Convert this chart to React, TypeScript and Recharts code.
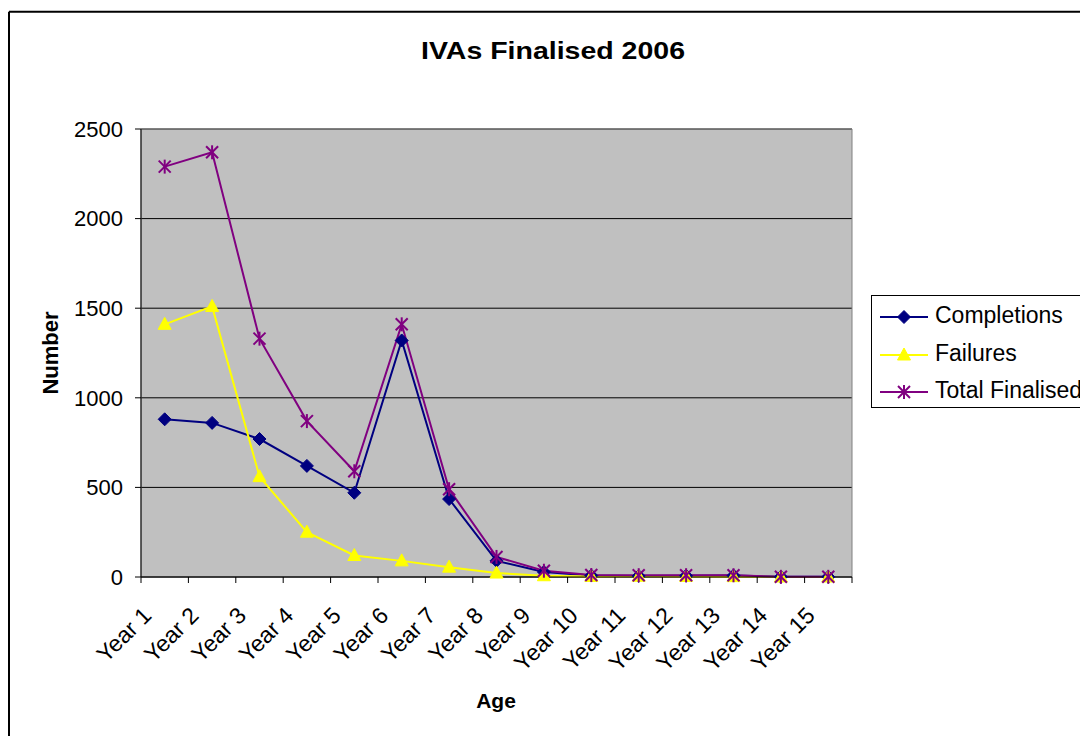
import React from 'react';
import { LineChart, Line, XAxis, YAxis, CartesianGrid, ReferenceArea } from 'recharts';

const categories = ['Year 1', 'Year 2', 'Year 3', 'Year 4', 'Year 5', 'Year 6', 'Year 7', 'Year 8', 'Year 9', 'Year 10', 'Year 11', 'Year 12', 'Year 13', 'Year 14', 'Year 15'];
const completions = [880, 860, 770, 620, 470, 1320, 435, 90, 28, 8, 6, 7, 8, 1, 1];
const failures = [1410, 1510, 560, 250, 120, 90, 55, 22, 7, 3, 4, 3, 2, 0, 0];
const totalFinalised = [2290, 2370, 1330, 870, 590, 1410, 490, 112, 35, 11, 10, 10, 10, 1, 1];
const yTicks = [0, 500, 1000, 1500, 2000, 2500];
const xBoundaries = categories.map((_, i) => i).concat([categories.length]);

const seriesNames = ['Completions', 'Failures', 'Total Finalised'];
const seriesColors = ['#000080', '#FFFF00', '#800080'];

const data = categories.map((c, i) => ({
  x: i + 0.5,
  name: c,
  completions: completions[i],
  failures: failures[i],
  total: totalFinalised[i],
}));

const FONT = "'Liberation Sans', Arial, sans-serif";
const W = 1080;
const H = 728;
const MARGIN = { top: 121, right: 236, left: 0, bottom: 0 };
const Y_W = 133;
const X_H = 159;
const PLOT_W = W - MARGIN.right - Y_W;
const HALF = PLOT_W / categories.length / 2;

const Diamond = ({ cx, cy, color }: any) => (
  <path d={`M${cx},${cy - 6.5}L${cx + 6.5},${cy}L${cx},${cy + 6.5}L${cx - 6.5},${cy}Z`} fill={color} stroke={color} strokeWidth={1} />
);
const Triangle = ({ cx, cy, color }: any) => (
  <path d={`M${cx},${cy - 7}L${cx + 6.5},${cy + 5}L${cx - 6.5},${cy + 5}Z`} fill={color} stroke={color} strokeWidth={1} />
);
const Star = ({ cx, cy, color }: any) => (
  <g stroke={color} strokeWidth={2}>
    <line x1={cx - 6} y1={cy - 6} x2={cx + 6} y2={cy + 6} />
    <line x1={cx - 6} y1={cy + 6} x2={cx + 6} y2={cy - 6} />
    <line x1={cx} y1={cy - 7} x2={cx} y2={cy + 7} />
  </g>
);
const markers = [Diamond, Triangle, Star];

const makeDot = (k: number) => (props: any) => {
  const M = markers[k];
  if (props.cx == null || props.cy == null) return <g key={`e-${k}-${props.index}`} />;
  return <M key={`m-${k}-${props.index}`} cx={props.cx} cy={props.cy} color={seriesColors[k]} />;
};

const XTick = (props: any) => {
  const { x, y, payload } = props;
  const v = payload.value;
  if (v >= categories.length) return <g />;
  const ax = x + HALF - 12;
  const ay = y + 32;
  return (
    <text x={ax} y={ay} textAnchor="end" transform={`rotate(-45 ${ax} ${ay})`} fontSize={23} fontFamily={FONT} fill="#000">
      {categories[v]}
    </text>
  );
};

export default function App() {
  const legendRows = [317, 355, 392];
  return (
    <div style={{ position: 'relative', width: W, height: H }}>
      <style>{'html{overflow:hidden;} #root{width:1080px;}'}</style>
      <div style={{ position: 'absolute', left: 0, top: 0, width: W, height: H }}>
        <LineChart width={W} height={H} data={data} margin={MARGIN}>
          <CartesianGrid vertical={false} stroke="#000" fill="#C0C0C0" fillOpacity={1} />
          <ReferenceArea x1={0} x2={15} y1={0} y2={2500} fill="none" stroke="#808080" strokeWidth={1} ifOverflow="visible" />
          <XAxis
            dataKey="x"
            type="number"
            domain={[0, 15]}
            ticks={xBoundaries}
            interval={0}
            height={X_H}
            tickSize={6}
            tickMargin={2}
            axisLine={{ stroke: '#000', strokeWidth: 1 }}
            tickLine={{ stroke: '#000', strokeWidth: 1 }}
            tick={<XTick />}
          />
          <YAxis
            type="number"
            domain={[0, 2500]}
            ticks={yTicks}
            interval={0}
            width={Y_W}
            tickSize={6}
            tickMargin={12}
            axisLine={{ stroke: '#000', strokeWidth: 1 }}
            tickLine={{ stroke: '#000', strokeWidth: 1 }}
            tick={{ fontSize: 22, fontFamily: FONT, fill: '#000' }}
          />
          <Line type="linear" dataKey="completions" stroke={seriesColors[0]} strokeWidth={2} dot={makeDot(0)} activeDot={false} isAnimationActive={false} />
          <Line type="linear" dataKey="failures" stroke={seriesColors[1]} strokeWidth={2} dot={makeDot(1)} activeDot={false} isAnimationActive={false} />
          <Line type="linear" dataKey="total" stroke={seriesColors[2]} strokeWidth={2} dot={makeDot(2)} activeDot={false} isAnimationActive={false} />
        </LineChart>
      </div>
      <svg width={W} height={H} style={{ position: 'absolute', left: 0, top: 0, pointerEvents: 'none' }}>
        <g transform="translate(-8,-8)" fontFamily={FONT}>
          <line x1={9} y1={11.7} x2={1200} y2={11.7} stroke="#000" strokeWidth={2} />
          <line x1={9} y1={11.7} x2={9} y2={900} stroke="#000" strokeWidth={2} />
          <text x={553} y={59} textAnchor="middle" fontSize={24} fontWeight="bold" textLength={264} lengthAdjust="spacingAndGlyphs" fill="#000">
            IVAs Finalised 2006
          </text>
          <text x={58} y={353} textAnchor="middle" fontSize={22} fontWeight="bold" transform="rotate(-90 58 353)" fill="#000">
            Number
          </text>
          <text x={496} y={708} textAnchor="middle" fontSize={21} fontWeight="bold" fill="#000">
            Age
          </text>
          <rect x={871.5} y={295.5} width={215} height={112} fill="none" stroke="#000" strokeWidth={1} />
          {seriesNames.map((n, k) => {
            const M = markers[k];
            const ly = legendRows[k];
            return (
              <g key={n}>
                <line x1={880} y1={ly} x2={928} y2={ly} stroke={seriesColors[k]} strokeWidth={2} />
                <M cx={904} cy={ly} color={seriesColors[k]} />
                <text x={935} y={ly + 6} fontSize={23} fill="#000">
                  {n}
                </text>
              </g>
            );
          })}
        </g>
      </svg>
    </div>
  );
}
